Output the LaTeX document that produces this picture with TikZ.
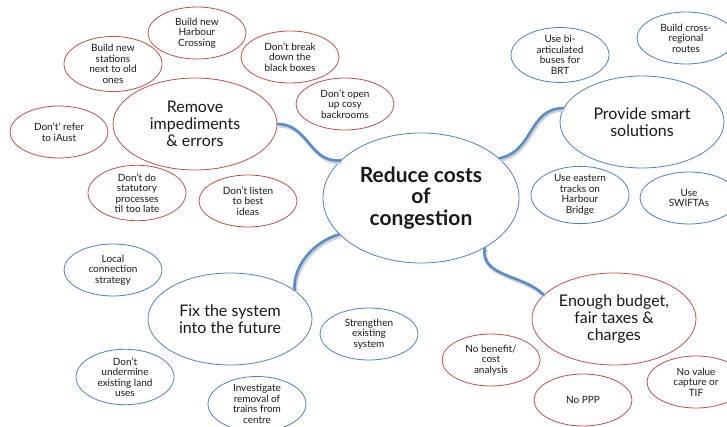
\documentclass[tikz,border=0pt]{standalone}
\usepackage{fontspec}
\setmainfont{Lato}
\usetikzlibrary{shapes.geometric}
\definecolor{bubblered}{RGB}{192,80,77}
\definecolor{bubbleblue}{RGB}{79,129,189}
\definecolor{linkblue}{RGB}{88,140,202}
\definecolor{inktext}{RGB}{25,25,25}
\tikzset{
  bubble/.style={ellipse, draw, line width=0.8pt, inner sep=0pt, align=center,
    text=inktext, font=\fontsize{10}{10.5}\selectfont},
  redsmall/.style={bubble, draw=bubblered, minimum width=98, minimum height=52},
  bluesmall/.style={bubble, draw=bubbleblue, minimum width=98, minimum height=52},
  redbig/.style={bubble, draw=bubblered, minimum width=164, minimum height=92,
    font=\fontsize{16}{17}\selectfont},
  bluebig/.style={bubble, draw=bubbleblue, minimum width=164, minimum height=92,
    font=\fontsize{16}{17}\selectfont},
  hub/.style={bubble, draw=bubbleblue, minimum width=196, minimum height=130,
    font=\bfseries\fontsize{21}{21.5}\selectfont},
  link/.style={draw=linkblue, line width=2.6pt, line cap=round,
    preaction={draw=black!18, line width=3.4pt, transform canvas={shift={(1.2,1.8)}}}}
}
\begin{document}
\begin{tikzpicture}[x=1pt, y=-1pt]
\useasboundingbox (0,0) rectangle (727,427);
\clip (0,0) rectangle (727,427);

% central idea
\node[hub] (ctr) at (421,198) {Reduce costs\\of\\congestion};

% main branches
\node[redbig]  (rem)  at (195,124) {Remove\\impediments\\\& errors};
\node[bluebig] (prov) at (642,122) {Provide smart\\solutions};
\node[bluebig] (fix)  at (230,319) {Fix the system\\into the future};
\node[redbig]  (fund) at (614,319) {Enough budget,\\fair taxes \&\\charges};

% connectors
\draw[link] (rem.east) to[out=0, in=185, looseness=1.1] (ctr.155);
\draw[link] (ctr.27) to[out=10, in=180, looseness=1.1] (prov.170);
\draw[link] (ctr.204) to[out=195, in=95, looseness=0.9] (fix.24);
\draw[link] (ctr.322) to[out=-100, in=135, looseness=1.0] (fund.161);

% impediments
\node[redsmall] (r1) at (113,64)  {Build new\\stations\\next to old\\ones};
\node[redsmall] (r2) at (197,33)  {Build new\\Harbour\\Crossing};
\node[redsmall] (r3) at (290,57)  {Don't break\\down the\\black boxes};
\node[redsmall] (r4) at (345,104) {Don't open\\up cosy\\backrooms};
\node[redsmall] (r5) at (59,132)  {Don't' refer\\to iAust};
\node[redsmall] (r6) at (137,193) {Don't do\\statutory\\processes\\til too late};
\node[redsmall] (r7) at (248,201) {Don't listen\\to best\\ideas};

% smart solutions
\node[bluesmall] (s1) at (560,55)  {Use bi-\\articulated\\buses for\\BRT};
\node[bluesmall] (s2) at (686,38)  {Build cross-\\regional\\routes};
\node[bluesmall] (s3) at (580,195) {Use eastern\\tracks on\\Harbour\\Bridge};
\node[bluesmall] (s4) at (689,198) {Use\\SWIFTAs};

% future system
\node[bluesmall] (f1) at (113,270) {Local\\connection\\strategy};
\node[bluesmall] (f2) at (125,377) {Don't\\undermine\\existing land\\uses};
\node[bluesmall] (f3) at (257,404) {Investigate\\removal of\\trains from\\centre};
\node[bluesmall] (f4) at (369,334) {Strengthen\\existing\\system};

% budget
\node[redsmall] (b1) at (491,360) {No benefit/\\cost\\analysis};
\node[redsmall] (b2) at (583,400) {No PPP};
\node[redsmall] (b3) at (696,382) {No value\\capture or\\TIF};
\end{tikzpicture}
\end{document}
